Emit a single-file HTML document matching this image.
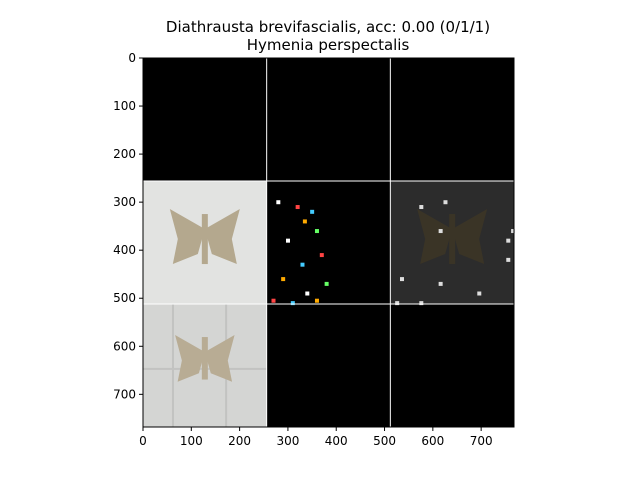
<!DOCTYPE html>
<html><head><meta charset="utf-8"><style>
body{margin:0;background:#fff;width:640px;height:480px;overflow:hidden;font-family:"Liberation Sans","DejaVu Sans",sans-serif}
</style></head><body>
<svg id="chart" width="640" height="480" xmlns="http://www.w3.org/2000/svg" font-family="DejaVu Sans, Liberation Sans, sans-serif">
<text x="328" y="32" text-anchor="middle" font-size="15">Diathrausta brevifascialis, acc: 0.00 (0/1/1)</text>
<text x="328" y="50" text-anchor="middle" font-size="15">Hymenia perspectalis</text>
<g id="plot"></g>
</svg>
<script>
const xTicks=[0,100,200,300,400,500,600,700];
const yTicks=[0,100,200,300,400,500,600,700];
const cellBg=[["#000","#000","#000"],["#e2e3e1","#000","#2c2c2c"],["#d4d5d3","#000","#000"]];
const moths=[[1,0,"#b4a88e"],[1,2,"#3a3426"],[2,0,"#b8ac94"]];
const L=143,T=58,W=371,H=369,R=768;
const sx=v=>L+v/R*W, sy=v=>T+v/R*H;
const NS="http://www.w3.org/2000/svg";
const g=document.getElementById('plot');
function el(t,a){const e=document.createElementNS(NS,t);for(const k in a)e.setAttribute(k,a[k]);g.appendChild(e);return e;}
for(let r=0;r<3;r++)for(let c=0;c<3;c++){
 const e=el('rect',{x:sx(c*256),y:sy(r*256),width:W/3,height:H/3,fill:cellBg[r][c]});
 
 
}
[60,170].forEach(v=>{const e=el('rect',{x:sx(v),y:sy(512),width:2,height:H/3,fill:"#c2c3c1"});});
[645].forEach(v=>{const e=el('rect',{x:sx(0),y:sy(v),width:W/3,height:2,fill:"#c2c3c1"});});
moths.forEach(m=>{
 const cx=sx(m[1]*256+128),cy=sy(m[0]*256+100),s=m[0]==2?0.85:1;
 const p=el('path',{d:`M${cx},${cy} l-35,-20 l8,30 l-5,25 l25,-10 z M${cx},${cy} l35,-20 l-8,30 l5,25 l-25,-10 z`,fill:m[2],transform:`translate(${cx},${cy}) scale(${s}) translate(${-cx},${-cy})`});
 
 
 const b=el('rect',{x:cx-3,y:cy-15,width:6,height:50*s,fill:m[2]});
 
 
});
const specks=[[20,40],[60,50],[90,60],[75,80],[100,100],[40,120],[110,150],[70,170],[30,200],[120,210],[80,230],[10,245],[50,250],[100,245]];
specks.forEach((s,i)=>{const e=el('rect',{x:sx(256+s[0]),y:sy(256+s[1]),width:4,height:4,fill:["#fff","#f44","#4cf","#fa0","#6f6"][i%5]});});
const grey=[[60,50],[110,40],[100,100],[250,100],[240,120],[20,200],[100,210],[180,230],[10,250],[60,250],[240,160]];
grey.forEach(s=>{const e=el('rect',{x:sx(512+s[0]),y:sy(256+s[1]),width:4,height:4,fill:"#ddd"});});
[256,512].forEach(v=>{
 let e=el('line',{x1:sx(v),x2:sx(v),y1:T,y2:T+H,stroke:"#fff","stroke-width":1});
 
 e=el('line',{x1:L,x2:L+W,y1:sy(v),y2:sy(v),stroke:"#fff","stroke-width":1});
 
});
const fr=el('rect',{x:L,y:T,width:W,height:H,fill:"none",stroke:"#000","stroke-width":1});

xTicks.forEach(v=>{
 const t=el('line',{x1:sx(v),x2:sx(v),y1:T+H,y2:T+H+4,stroke:"#000"});
 
 const l=el('text',{x:sx(v),y:T+H+18,"text-anchor":"middle","font-size":12});l.textContent=v;
 
});
yTicks.forEach(v=>{
 const t=el('line',{x1:L-4,x2:L,y1:sy(v),y2:sy(v),stroke:"#000"});
 
 const l=el('text',{x:L-7,y:sy(v)+4,"text-anchor":"end","font-size":12});l.textContent=v;
 
});
</script>
</body></html>
